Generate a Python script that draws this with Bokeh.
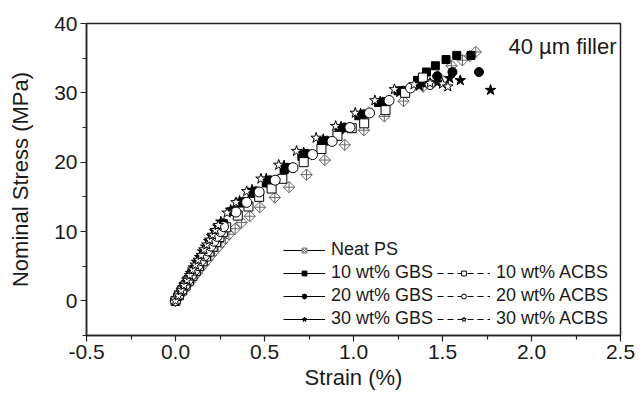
from bokeh.plotting import figure
from bokeh.models import Legend, LegendItem, Label, Range1d, FixedTicker
from bokeh.embed import file_html
from bokeh.resources import INLINE

FONT = "Liberation Sans"

# ---- data (strain %, nominal stress MPa) ----
neat_x = [0.00, 0.02, 0.04, 0.06, 0.08, 0.10, 0.12, 0.14, 0.16, 0.18, 0.20, 0.22, 0.24, 0.26, 0.28, 0.30,
          0.335, 0.371, 0.417, 0.474, 0.558, 0.638, 0.736, 0.839, 0.951, 1.058, 1.173, 1.281, 1.391,
          1.475, 1.551, 1.612, 1.653, 1.687]
neat_y = [0.0, 0.7, 1.4, 2.1, 2.7, 3.4, 4.0, 4.7, 5.3, 5.9, 6.6, 7.2, 7.8, 8.4, 9.0, 9.6,
          10.4, 11.3, 12.2, 13.5, 14.9, 16.4, 18.2, 20.3, 22.5, 24.6, 26.6, 28.8, 30.9,
          32.4, 33.9, 34.7, 35.3, 35.9]

gbs10_x = [0.0, 0.018, 0.036, 0.054, 0.072, 0.09, 0.108, 0.126, 0.144, 0.162, 0.18, 0.198, 0.216, 0.234, 0.252, 0.27,
           0.32, 0.37, 0.43, 0.51, 0.61, 0.71, 0.82, 0.92, 1.03, 1.14, 1.25, 1.36, 1.41, 1.46, 1.52, 1.58, 1.66]
gbs10_y = [0.0, 0.8, 1.6, 2.3, 3.1, 3.9, 4.6, 5.4, 6.1, 6.9, 7.6, 8.3, 9.0, 9.7, 10.4, 11.1,
           12.9, 14.1, 15.5, 17.0, 18.9, 20.8, 22.8, 24.7, 26.7, 28.6, 30.3, 31.8, 33.0, 33.9, 34.8, 35.4, 35.4]

gbs20_x = [0.0, 0.018, 0.036, 0.054, 0.072, 0.09, 0.108, 0.126, 0.144, 0.162, 0.18, 0.198, 0.216, 0.234, 0.252, 0.27,
           0.33, 0.38, 0.45, 0.53, 0.63, 0.74, 0.85, 0.95, 1.06, 1.17, 1.28, 1.39, 1.47, 1.556, 1.705]
gbs20_y = [0.0, 0.8, 1.6, 2.4, 3.1, 3.9, 4.7, 5.4, 6.2, 6.9, 7.7, 8.4, 9.1, 9.8, 10.5, 11.2,
           13.0, 14.3, 15.8, 17.4, 19.2, 21.2, 23.1, 25.0, 26.9, 28.7, 30.3, 31.5, 32.4, 33.0, 33.0]

gbs30_x = [0.0, 0.017, 0.034, 0.051, 0.068, 0.085, 0.102, 0.119, 0.136, 0.153, 0.17, 0.187, 0.204, 0.221, 0.238, 0.255,
           0.31, 0.36, 0.43, 0.51, 0.61, 0.72, 0.83, 0.93, 1.04, 1.15, 1.26, 1.37, 1.47, 1.54, 1.60, 1.77]
gbs30_y = [0.0, 0.8, 1.6, 2.4, 3.2, 4.0, 4.8, 5.6, 6.3, 7.1, 7.8, 8.6, 9.3, 10.0, 10.7, 11.4,
           13.1, 14.4, 16.0, 17.6, 19.5, 21.4, 23.3, 25.1, 27.0, 28.7, 30.1, 31.0, 31.5, 32.1, 31.8, 30.4]

acbs10_x = [0.0, 0.019, 0.038, 0.057, 0.076, 0.095, 0.114, 0.133, 0.152, 0.171, 0.19, 0.209, 0.228, 0.247, 0.266, 0.285,
            0.35, 0.41, 0.47, 0.54, 0.60, 0.72, 0.82, 0.91, 0.99, 1.06, 1.18, 1.29, 1.39]
acbs10_y = [0.0, 0.8, 1.5, 2.2, 2.9, 3.6, 4.3, 5.0, 5.7, 6.4, 7.1, 7.8, 8.5, 9.2, 9.9, 10.6,
            12.3, 13.6, 15.0, 16.2, 17.6, 20.0, 21.9, 23.8, 24.9, 25.6, 27.5, 30.0, 32.2]

acbs20_x = [0.0, 0.018, 0.036, 0.054, 0.072, 0.09, 0.108, 0.126, 0.144, 0.162, 0.18, 0.198, 0.216, 0.234, 0.252, 0.27,
            0.34, 0.40, 0.47, 0.56, 0.66, 0.77, 0.88, 0.98, 1.09, 1.20, 1.32, 1.43]
acbs20_y = [0.0, 0.75, 1.5, 2.25, 3.0, 3.7, 4.4, 5.1, 5.8, 6.5, 7.2, 7.9, 8.6, 9.3, 10.0, 10.7,
            12.8, 14.2, 15.7, 17.4, 19.2, 21.1, 23.0, 25.0, 27.1, 28.9, 30.7, 31.2]

acbs30_x = [0.0, 0.016, 0.032, 0.048, 0.064, 0.08, 0.096, 0.112, 0.128, 0.144, 0.16, 0.176, 0.192, 0.208, 0.224, 0.24,
            0.29, 0.34, 0.40, 0.48, 0.58, 0.68, 0.79, 0.90, 1.01, 1.12, 1.23, 1.34, 1.43, 1.50, 1.53]
acbs30_y = [0.0, 0.75, 1.5, 2.25, 3.0, 3.7, 4.5, 5.2, 5.9, 6.6, 7.4, 8.1, 8.8, 9.5, 10.2, 10.9,
            12.7, 14.2, 15.8, 17.6, 19.6, 21.6, 23.5, 25.2, 27.1, 28.9, 30.5, 31.2, 31.4, 31.3, 30.9]

x_ticks = [-0.5, 0.0, 0.5, 1.0, 1.5, 2.0, 2.5]
x_tick_labels = ["-0.5", "0.0", "0.5", "1.0", "1.5", "2.0", "2.5"]
x_minor = [-0.25, 0.25, 0.75, 1.25, 1.75, 2.25]
y_ticks = [0, 10, 20, 30, 40]
y_tick_labels = ["0", "10", "20", "30", "40"]
y_minor = [-5, 5, 15, 25, 35]

p = figure(width=642, height=395, output_backend="svg", toolbar_location=None,
           x_range=Range1d(-0.5, 2.5), y_range=Range1d(-5, 40),
           min_border_left=86, min_border_right=22, min_border_top=23, min_border_bottom=60)
p.background_fill_color = "white"
p.border_fill_color = "white"
p.outline_line_color = "#222222"
p.outline_line_width = 1.5
p.xgrid.visible = False
p.ygrid.visible = False

for ax in (p.xaxis[0], p.yaxis[0]):
    ax.axis_line_color = "#222222"
    ax.axis_line_width = 1.5
    ax.major_tick_line_color = "#222222"
    ax.minor_tick_line_color = "#222222"
    ax.major_tick_line_width = 1.2
    ax.minor_tick_line_width = 1.2
    ax.major_tick_out = 6
    ax.major_tick_in = 0
    ax.minor_tick_out = 4
    ax.minor_tick_in = 0
    ax.major_label_text_font = FONT
    ax.major_label_text_font_size = "21px"
    ax.major_label_text_color = "#1a1a1a"
    ax.axis_label_text_font = FONT
    ax.axis_label_text_font_size = "22px"
    ax.axis_label_text_font_style = "normal"
    ax.axis_label_text_color = "#1a1a1a"

p.xaxis[0].ticker = FixedTicker(ticks=x_ticks, minor_ticks=x_minor)
p.yaxis[0].ticker = FixedTicker(ticks=y_ticks, minor_ticks=y_minor)
p.xaxis[0].major_label_overrides = {float(t): s for t, s in zip(x_ticks, x_tick_labels)}
p.yaxis[0].major_label_overrides = {float(t): s for t, s in zip(y_ticks, y_tick_labels)}
p.xaxis[0].axis_label = "Strain (%)"
p.yaxis[0].axis_label = "Nominal Stress (MPa)"
p.xaxis[0].major_label_standoff = 3
p.xaxis[0].axis_label_standoff = 3
p.yaxis[0].major_label_standoff = 3
p.yaxis[0].axis_label_standoff = 18

series = [
    ("Neat PS", neat_x, neat_y, "square_x", 8, 0.785398, "white", "#666666", "solid"),
    ("10 wt% GBS", gbs10_x, gbs10_y, "square", 8, 0.0, "black", "black", "solid"),
    ("20 wt% GBS", gbs20_x, gbs20_y, "circle", 9, 0.0, "black", "black", "solid"),
    ("30 wt% GBS", gbs30_x, gbs30_y, "star", 11, 0.0, "black", "black", "solid"),
    ("10 wt% ACBS", acbs10_x, acbs10_y, "square", 9, 0.0, "white", "black", "6 4"),
    ("20 wt% ACBS", acbs20_x, acbs20_y, "circle", 10, 0.0, "white", "black", "6 4"),
    ("30 wt% ACBS", acbs30_x, acbs30_y, "star", 11, 0.0, "white", "black", "6 4"),
]

items_a, items_b = [], []
for name, xs, ys, mk, sz, ang, fc, lc, dash in series:
    ln = p.line(xs, ys, line_color="black", line_width=1.2, line_dash=dash)
    ln.visible = False
    sc = p.scatter(xs, ys, marker=mk, size=sz, angle=ang, fill_color=fc, line_color=lc, line_width=1)
    item = LegendItem(label=name, renderers=[ln, sc])
    if "ACBS" in name:
        items_b.append(item)
    else:
        items_a.append(item)

def make_legend(items, loc, gw):
    lg = Legend(items=items, location=loc, orientation="vertical",
                border_line_alpha=0, background_fill_alpha=0,
                padding=0, margin=0, spacing=2,
                glyph_width=gw, glyph_height=12, label_height=21,
                label_standoff=6,
                label_text_font=FONT, label_text_font_size="18px",
                label_text_color="#1a1a1a")
    return lg

p.add_layout(make_legend(items_a, (197, 6), 42), "center")
p.add_layout(make_legend(items_b, (351, 6), 53), "center")

p.add_layout(Label(x=530, y=289, x_units="screen", y_units="screen", text="40 µm filler",
                   text_align="right", text_baseline="middle",
                   text_font=FONT, text_font_size="22px", text_color="#1a1a1a"))

open("out.html", "w").write(file_html(p, INLINE))
